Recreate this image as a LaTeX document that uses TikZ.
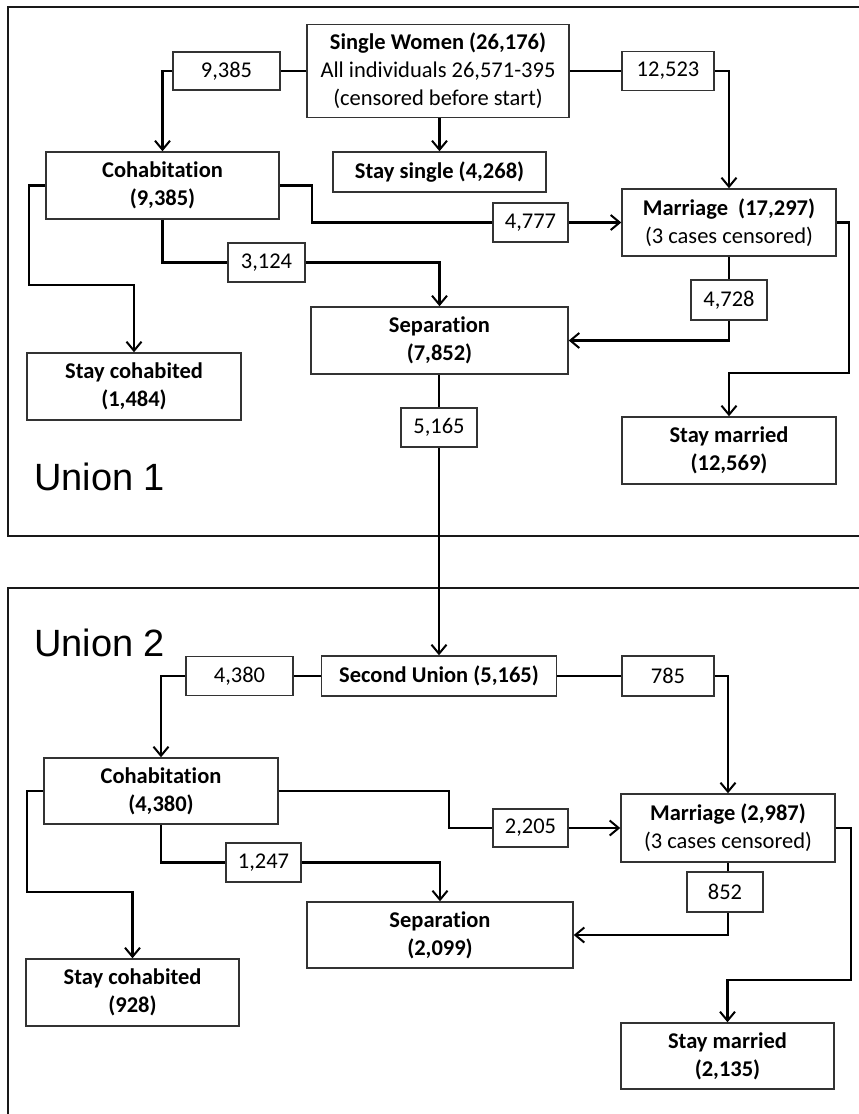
\documentclass[tikz,border=0pt]{standalone}
\usepackage{fontspec}
\setmainfont{Carlito}[Ligatures={NoCommon}]
\newfontfamily\unionfont{Liberation Sans}
\usetikzlibrary{arrows.meta}
\begin{document}
\begin{tikzpicture}[x=1pt,y=-1pt,
  box/.style={draw=black!80,line width=1.5pt,fill=white,inner sep=0pt,align=center,
    font=\fontsize{22.5}{28}\selectfont},
  num/.style={box},
  conn/.style={line width=2.2pt,black},
  arr/.style={conn,-{Straight Barb[length=9pt,width=15pt,line width=2pt]}},
  frame/.style={line width=2.6pt,black!90},
  ulabel/.style={anchor=base west,inner sep=0pt,font=\unionfont\fontsize{38}{40}\selectfont}]
\useasboundingbox (0,0) rectangle (859,1114);
\begin{scope}
\clip (0,0) rectangle (859,1114);
\draw[frame] (8,7) rectangle (880,536);
\draw[frame] (8,588) rectangle (880,1140);
\end{scope}

% Union 1
\node[ulabel] (u1) at (34,490) {Union 1};
\node[box,minimum width=262pt,minimum height=93pt] (sw) at (438,71)
  {\textbf{Single Women (26,176)}\\All individuals 26,571-395\\(censored before start)};
\node[num,minimum width=107pt,minimum height=38pt] (n9385) at (226.5,71) {9,385};
\node[num,minimum width=92pt,minimum height=39pt] (n12523) at (668,71) {12,523};
\node[box,minimum width=233pt,minimum height=67pt] (coh1) at (162.5,185.5) {\textbf{Cohabitation}\\\textbf{(9,385)}};
\node[box,minimum width=213pt,minimum height=40pt] (single) at (439.5,172) {\textbf{Stay single (4,268)}};
\node[box,minimum width=214pt,minimum height=67pt] (mar1) at (729,222.5) {\textbf{Marriage\ \ (17,297)}\\(3 cases censored)};
\node[num,minimum width=75pt,minimum height=39pt] (n4777) at (530.5,222.5) {4,777};
\node[num,minimum width=77pt,minimum height=39pt] (n3124) at (266.5,262.5) {3,124};
\node[box,minimum width=257pt,minimum height=67pt] (sep1) at (439.5,340.5) {\textbf{Separation}\\\textbf{(7,852)}};
\node[num,minimum width=76pt,minimum height=40pt] (n4728) at (729,300) {4,728};
\node[box,minimum width=214pt,minimum height=67pt] (sm1) at (729,450.5) {\textbf{Stay married}\\\textbf{(12,569)}};
\node[box,minimum width=214pt,minimum height=67pt] (sc1) at (134,386.5) {\textbf{Stay cohabited}\\\textbf{(1,484)}};
\node[num,minimum width=76pt,minimum height=39pt] (n5165) at (439,427.5) {5,165};

\coordinate (k1) at (312,185.5);
\coordinate (k2) at (849,373);
\coordinate (k3) at (29,285);

\draw[conn] (sw.west) -- (n9385.east);
\draw[arr] (n9385.west) -| (coh1.north);
\draw[conn] (sw.east) -- (n12523.west);
\draw[arr] (n12523.east) -| (mar1.north);
\draw[arr] (sw.south -| single.north) -- (single.north);
\draw[conn] (coh1.east) -- (k1) |- (n4777.west);
\draw[arr] (n4777.east) -- (mar1.west);
\draw[conn] (coh1.south) |- (n3124.west);
\draw[arr] (n3124.east) -| (sep1.north);
\draw[conn] (mar1.south) -- (n4728.north);
\draw[arr] (n4728.south) |- (sep1.east);
\draw[arr] (mar1.east) -| (k2) -| (sm1.north);
\draw[arr] (coh1.west) -| (k3) -| (sc1.north);
\draw[conn] (sep1.south -| n5165.north) -- (n5165.north);

% Union 2
\node[ulabel] (u2) at (34,656) {Union 2};
\node[box,minimum width=235pt,minimum height=40pt] (su) at (439,676) {\textbf{Second Union (5,165)}};
\draw[arr] (n5165.south) -- (su.north);
\node[num,minimum width=107pt,minimum height=39pt] (n4380) at (239.5,676) {4,380};
\node[num,minimum width=92pt,minimum height=40pt] (n785) at (668,676) {785};
\node[box,minimum width=234pt,minimum height=66pt] (coh2) at (161,791) {\textbf{Cohabitation}\\\textbf{(4,380)}};
\node[box,minimum width=214pt,minimum height=68pt] (mar2) at (728,828) {\textbf{Marriage (2,987)}\\(3 cases censored)};
\node[num,minimum width=75pt,minimum height=38pt] (n2205) at (530.5,828) {2,205};
\node[num,minimum width=75pt,minimum height=39pt] (n1247) at (263.5,862.5) {1,247};
\node[box,minimum width=266pt,minimum height=66pt] (sep2) at (440,935) {\textbf{Separation}\\\textbf{(2,099)}};
\node[num,minimum width=76pt,minimum height=40pt] (n852) at (725,892) {852};
\node[box,minimum width=213pt,minimum height=66pt] (sm2) at (727.5,1056) {\textbf{Stay married}\\\textbf{(2,135)}};
\node[box,minimum width=213pt,minimum height=67pt] (sc2) at (132.5,992.5) {\textbf{Stay cohabited}\\\textbf{(928)}};

\coordinate (k4) at (449,791);
\coordinate (k5) at (851,980);
\coordinate (k6) at (27,892);

\draw[conn] (su.west) -- (n4380.east);
\draw[arr] (n4380.west) -| (coh2.north);
\draw[conn] (su.east) -- (n785.west);
\draw[arr] (n785.east) -| (mar2.north);
\draw[conn] (coh2.east) -- (k4) |- (n2205.west);
\draw[arr] (n2205.east) -- (mar2.west);
\draw[conn] (coh2.south) |- (n1247.west);
\draw[arr] (n1247.east) -| (sep2.north);
\draw[conn] (mar2.south) -- (mar2.south |- n852.north);
\draw[arr] (n852.south -| mar2.south) |- (sep2.east);
\draw[arr] (mar2.east) -| (k5) -| (sm2.north);
\draw[arr] (coh2.west) -| (k6) -| (sc2.north);
\end{tikzpicture}
\end{document}
